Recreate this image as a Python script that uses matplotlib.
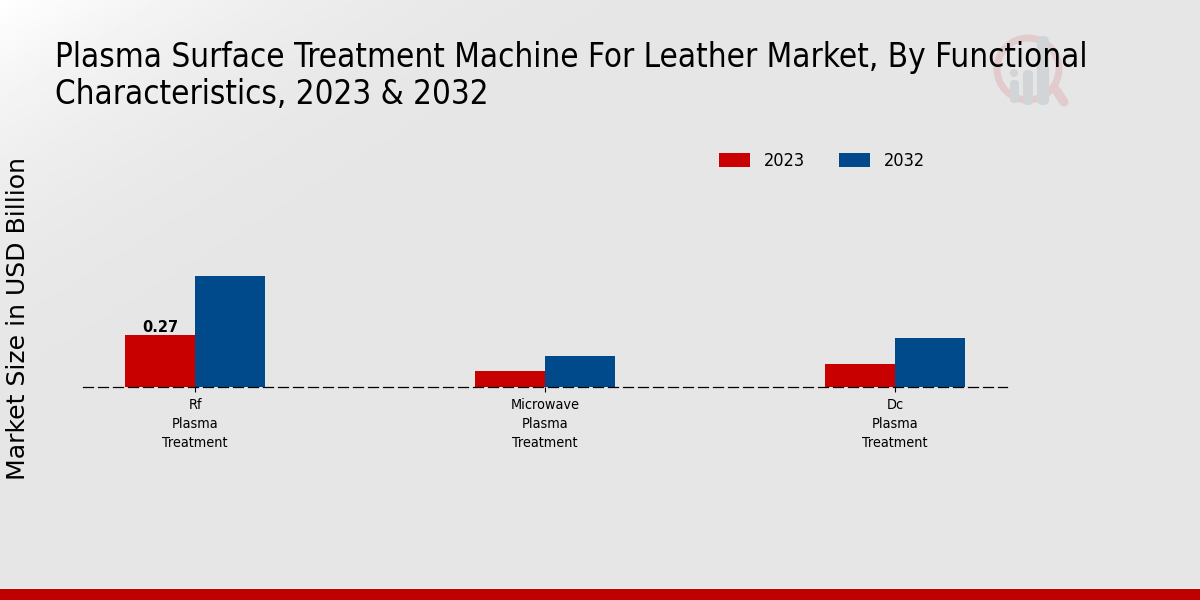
import numpy as np
import matplotlib
matplotlib.use("Agg")
import matplotlib.pyplot as plt
from matplotlib.patches import Circle, FancyBboxPatch, Rectangle
from matplotlib import font_manager as fm

title = "Plasma Surface Treatment Machine For Leather Market, By Functional\nCharacteristics, 2023 & 2032"
ylabel = "Market Size in USD Billion"
categories = ["Rf\nPlasma\nTreatment", "Microwave\nPlasma\nTreatment", "Dc\nPlasma\nTreatment"]
series_names = ["2023", "2032"]
values_2023 = [0.27, 0.085, 0.12]
values_2032 = [0.58, 0.165, 0.255]
colors = ["#C80000", "#004A8B"]

cond = dict(family="DejaVu Sans", stretch="condensed")
W, H = 1200, 600
fig = plt.figure(figsize=(12, 6), dpi=100)

# background gradient
bg = fig.add_axes([0, 0, 1, 1], zorder=0)
bg.set_axis_off()
yy, xx = np.mgrid[0:600:300j, 0:1200:600j]
d = np.clip((xx + 1.6 * yy) / 800, 0, 1)
g = 0.90 + (1.0 - 0.90) * (1 - d) ** 2.6
bg.imshow(g, cmap="gray", vmin=0, vmax=1, extent=[0, W, H, 0], aspect="auto")
bg.set_xlim(0, W); bg.set_ylim(H, 0)
# bottom band
bg.add_patch(Rectangle((0, 588), W, 1, color="#F0F0F0", lw=0))
bg.add_patch(Rectangle((0, 589), W, 11, color="#BF0000", lw=0))
# watermark logo
bg.add_patch(Circle((1028, 69), 31, fill=False, ec="#E2CBCD", lw=5))
bg.plot([1056, 1064], [90, 102], color="#E2CBCD", lw=6.5, solid_capstyle="round")
for x0, top, w, bottom in [(1010, 80, 9, 103), (1023, 70, 10, 105), (1037, 36, 12, 105)]:
    r = w / 2 - 0.5
    bg.add_patch(FancyBboxPatch((x0 + r, top + r), w - 2 * r, bottom - top - 2 * r,
                                boxstyle=f"round,pad={r}", fc="#D2D5D8", ec="none"))
bg.add_patch(Circle((1014, 73), 4, fc="#D2D5D8", ec="none"))
bg.set_xlim(0, W); bg.set_ylim(H, 0)

# main axes
left, right, top_px, base_px = 83, 1007, 140, 387.3
ax = fig.add_axes([left / W, 1 - base_px / H, (right - left) / W, (base_px - top_px) / H], zorder=2)
ax.patch.set_alpha(0)
x = np.arange(len(categories))
bw = 0.2
ax.bar(x - bw / 2, values_2023, bw, color=colors[0], label=series_names[0])
ax.bar(x + bw / 2, values_2032, bw, color=colors[1], label=series_names[1])
ax.set_xlim(-0.32, 2.32)
ax.set_ylim(0, (base_px - top_px) / 52 * 0.27)
for s in ["top", "left", "right"]:
    ax.spines[s].set_visible(False)
ax.spines["bottom"].set_linestyle((0, (8, 4)))
ax.spines["bottom"].set_linewidth(0.9)
ax.set_yticks([])
ax.set_xticks(x)
ax.set_xticklabels(categories, fontsize=10.4, linespacing=1.45, **cond)
ax.tick_params(axis="x", length=3.5, width=0.8, pad=4)
ax.text(x[0] - bw / 2, values_2023[0], "0.27", ha="center", va="bottom", fontsize=10.5, fontweight="bold", color="black")

fig.text(55 / W, 1 - 110.5 / H, title, fontsize=23.73, ha="left", va="bottom", linespacing=1.13, zorder=3, **cond)
fig.text(18 / W, 1 - 319 / H, ylabel, rotation=90, fontsize=18.1, ha="center", va="center", zorder=3)

handles, labels = ax.get_legend_handles_labels()
fig.legend(handles, labels, loc="center", bbox_to_anchor=(822 / W, 1 - 161 / H), ncol=2, frameon=False,
           prop=fm.FontProperties(family="DejaVu Sans", stretch="condensed", size=13),
           handlelength=1.72, handleheight=0.78, columnspacing=1.9, handletextpad=0.78)

fig.savefig("out.png", dpi=100)
